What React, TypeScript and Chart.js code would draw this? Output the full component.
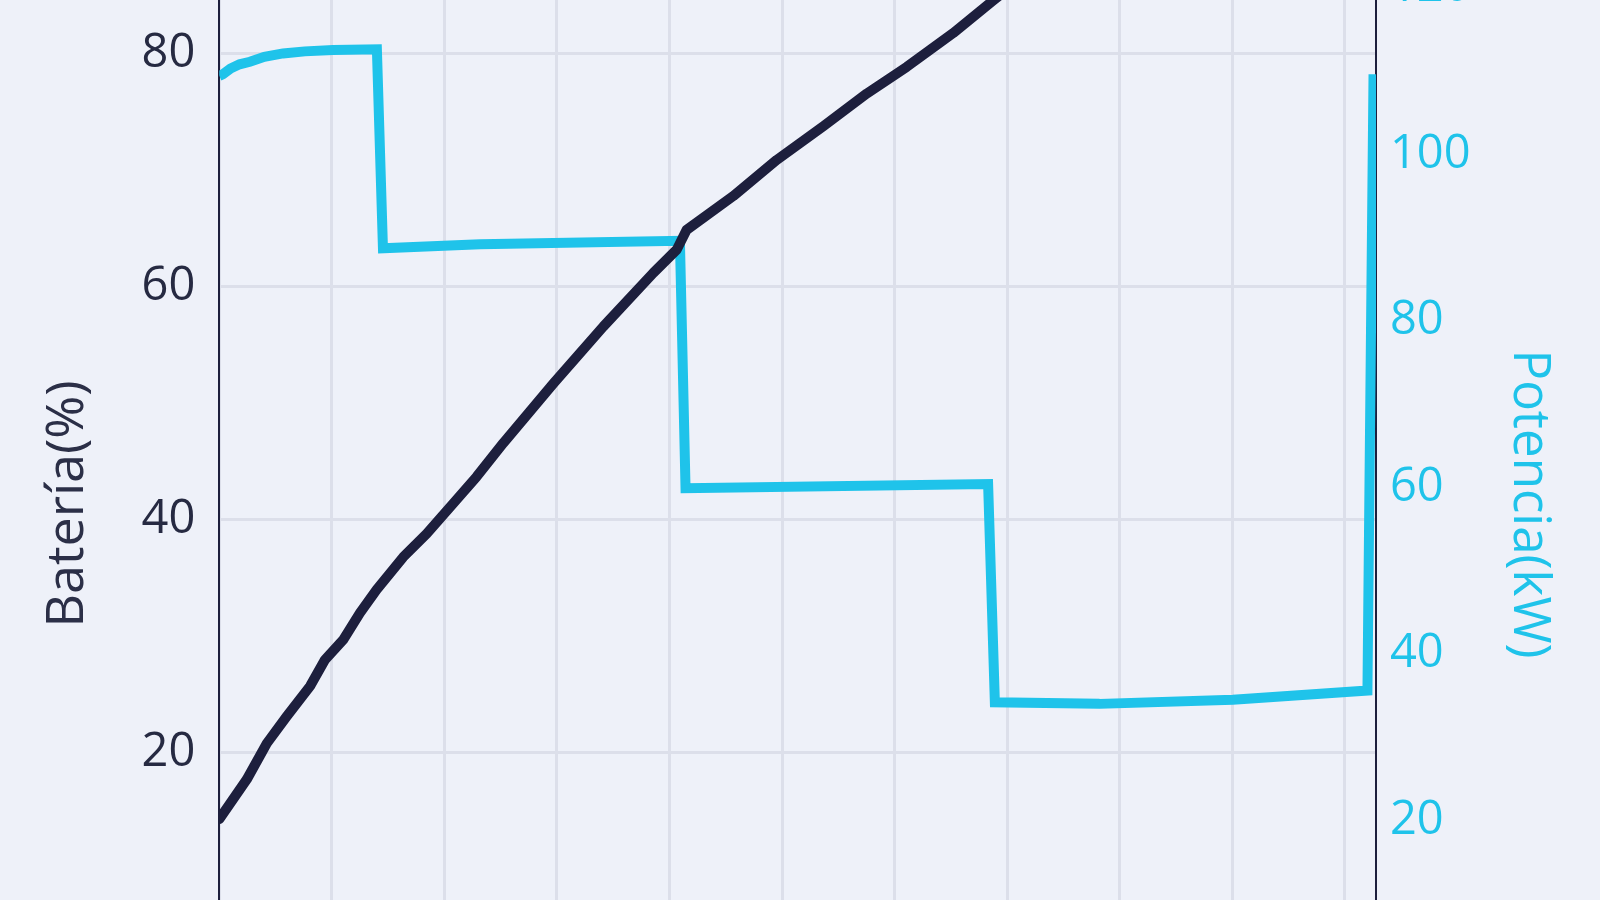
import React, { useEffect, useRef } from "react";
import { Chart, registerables } from "chart.js";

Chart.register(...registerables);

// Tiempo de carga (min) y estado de la batería (%)
const bateriaMin = [0, 1.22, 2.11, 2.99, 4.03, 4.7, 5.51, 6.25, 6.99, 8.17, 9.21, 10.39, 11.43, 12.62, 14.84, 17.06, 19.28, 20.32, 20.76, 22.83, 24.76, 26.83, 28.76, 30.54, 32.6, 34.38, 35.5];
const bateriaPct = [14.3, 17.7, 20.8, 23.1, 25.7, 28.0, 29.7, 32.0, 34.0, 36.8, 38.8, 41.4, 43.7, 46.6, 51.7, 56.6, 61.2, 63.2, 64.9, 67.8, 70.9, 73.8, 76.6, 78.9, 81.8, 84.6, 86.3];

// Tiempo de carga (min) y potencia (kW)
const potenciaMin = [0, 0.16, 0.5, 0.9, 1.36, 2.0, 2.83, 3.8, 5.05, 7.0, 7.27, 11.58, 20.46, 20.71, 34.15, 34.45, 39.1, 45.02, 51.0, 51.27];
const potenciaKW = [109.4, 109.6, 110.3, 110.8, 111.1, 111.7, 112.1, 112.35, 112.5, 112.6, 88.7, 89.2, 89.6, 59.9, 60.4, 34.2, 34.0, 34.5, 35.6, 109.6];

const tiempoMax = 51.38;
const tiempoPaso = 5;
const bateriaRango = [-17.29, 100];
const potenciaRango = [-24, 140];
const pasoY = 20;

const FONT = "'Open Sans', 'Noto Sans', sans-serif";
const NAVY = "#1d1f3d";
const CYAN = "#1fc3ea";

export default function App() {
  const ref = useRef<HTMLCanvasElement | null>(null);

  useEffect(() => {
    if (!ref.current) return;
    const chart = new Chart(ref.current, {
      type: "line",
      data: {
        datasets: [
          {
            label: "Batería(%)",
            data: bateriaMin.map((t, i) => ({ x: t, y: bateriaPct[i] })),
            borderColor: NAVY,
            backgroundColor: NAVY,
            borderWidth: 10,
            pointRadius: 0,
            tension: 0,
            borderJoinStyle: "round",
            borderCapStyle: "round",
            yAxisID: "y",
          },
          {
            label: "Potencia(kW)",
            data: potenciaMin.map((t, i) => ({ x: t, y: potenciaKW[i] })),
            borderColor: CYAN,
            backgroundColor: CYAN,
            borderWidth: 10,
            pointRadius: 0,
            tension: 0,
            yAxisID: "y1",
          },
        ],
      },
      options: {
        animation: false,
        responsive: false,
        devicePixelRatio: 1,
        layout: { padding: { top: 60.1, bottom: 10.1, left: 0, right: 0 } },
        plugins: {
          legend: { display: false },
          tooltip: { enabled: false },
        },
        scales: {
          x: {
            type: "linear",
            min: 0,
            max: tiempoMax,
            afterFit: (s: any) => {
              s.height = 80;
            },
            ticks: { display: false, stepSize: tiempoPaso, includeBounds: false },
            grid: { color: "#dcdfea", lineWidth: 3, drawTicks: false },
            border: { display: false },
          },
          y: {
            type: "linear",
            position: "left",
            min: bateriaRango[0],
            max: bateriaRango[1],
            afterFit: (s: any) => {
              s.width = 219.3;
            },
            ticks: {
              stepSize: pasoY,
              includeBounds: false,
              padding: 24,
              color: "#262a42",
              font: { family: FONT, size: 47 },
            },
            grid: { color: "#dcdfea", lineWidth: 3, drawTicks: false },
            border: { display: true, color: NAVY, width: 2 },
            title: {
              display: true,
              text: "Batería(%)",
              color: "#2b2f47",
              font: { family: FONT, size: 52 },
              padding: { top: 37, bottom: 0 },
            },
          },
          y1: {
            type: "linear",
            position: "right",
            min: potenciaRango[0],
            max: potenciaRango[1],
            afterFit: (s: any) => {
              s.width = 224;
            },
            ticks: {
              stepSize: pasoY,
              includeBounds: false,
              padding: 14,
              color: CYAN,
              font: { family: FONT, size: 47 },
            },
            grid: { drawOnChartArea: false, drawTicks: false },
            border: { display: true, color: NAVY, width: 2 },
            title: {
              display: true,
              text: "Potencia(kW)",
              color: CYAN,
              font: { family: FONT, size: 51 },
              padding: { top: 41, bottom: 0 },
            },
          },
        },
      },
    } as any);
    return () => chart.destroy();
  }, []);

  return (
    <div
      style={{
        position: "fixed",
        left: 0,
        top: 0,
        width: "100vw",
        height: "100vh",
        overflow: "hidden",
        background: "#eef1f9",
      }}
    >
      <div style={{ position: "absolute", left: 0, top: -239, width: 1600, height: 1516 }}>
        <canvas ref={ref} width={1600} height={1516} style={{ display: "block", width: 1600, height: 1516 }} />
      </div>
    </div>
  );
}
